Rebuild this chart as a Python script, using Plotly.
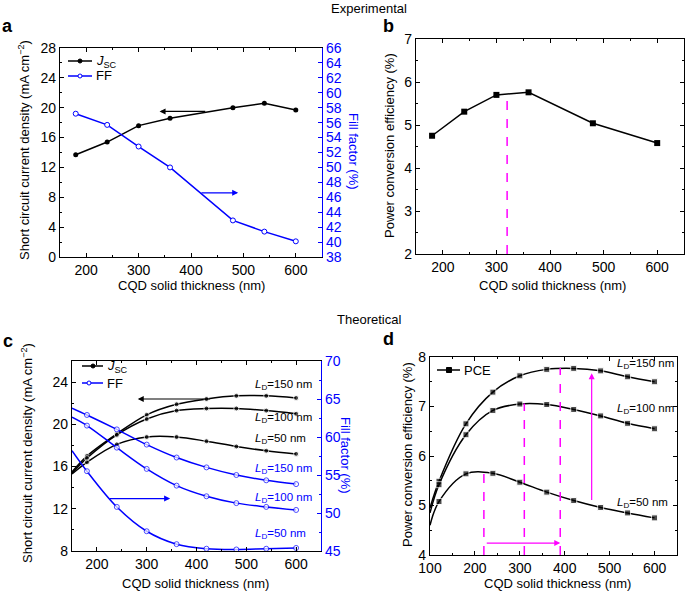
import plotly.graph_objects as go

# ---- data ----
# experimental (a, b)
exp_thick = [180, 240, 300, 360, 480, 540, 600]
exp_jsc = [13.7, 15.4, 17.6, 18.6, 20.0, 20.6, 19.7]
exp_ff = [57.2, 55.7, 52.8, 50.0, 42.9, 41.4, 40.1]

exp_thick_b = [180, 240, 300, 360, 480, 600]
exp_pce = [4.75, 5.31, 5.70, 5.76, 5.04, 4.58]
exp_opt_thick = 320
exp_opt_pce = 5.73

# theoretical (c)  first point = curve start, no marker
th_thick_c = [150, 180, 240, 300, 360, 420, 480, 540, 600]
ld_labels = ['150', '100', '50']
th_jsc = {
    '150': [15.5, 17.0, 19.1, 20.9, 21.9, 22.4, 22.7, 22.7, 22.5],
    '100': [15.4, 16.8, 19.0, 20.5, 21.3, 21.5, 21.5, 21.3, 21.0],
    '50': [15.3, 16.4, 18.1, 18.8, 18.8, 18.4, 17.9, 17.5, 17.2],
}
th_ff = {
    '150': [63.8, 62.9, 61.0, 59.0, 57.3, 56.0, 55.0, 54.3, 53.8],
    '100': [62.6, 61.5, 58.6, 55.8, 53.6, 52.2, 51.3, 50.8, 50.4],
    '50': [58.2, 55.5, 50.8, 47.6, 45.9, 45.3, 45.2, 45.3, 45.4],
}

# theoretical (d)
th_thick_d = [100, 120, 180, 240, 300, 360, 420, 480, 540, 600]
th_pce = {
    '150': [4.95, 5.49, 6.65, 7.29, 7.62, 7.75, 7.77, 7.72, 7.60, 7.50],
    '100': [4.85, 5.42, 6.43, 6.92, 7.05, 7.04, 6.94, 6.81, 6.66, 6.55],
    '50': [4.60, 5.08, 5.64, 5.65, 5.47, 5.27, 5.10, 4.96, 4.85, 4.75],
}
th_opt_thick = [220, 310, 390]
th_opt_pce = [5.69, 7.06, 7.78]

W, H = 685, 594
FONT = 'Liberation Sans, Arial, sans-serif'
BLUE = '#0000FF'
MAG = '#FF00FF'


def px(x):
    return x / W


def py(y):
    return 1 - y / H


fig = go.Figure()

# ---- panel a ----
fig.add_trace(go.Scatter(x=exp_thick, y=exp_jsc, mode='lines+markers',
                         line=dict(color='black', width=1.5),
                         marker=dict(symbol='circle', size=5, color='black'),
                         xaxis='x', yaxis='y'))
fig.add_trace(go.Scatter(x=exp_thick, y=exp_ff, mode='lines+markers',
                         line=dict(color=BLUE, width=1.5),
                         marker=dict(symbol='circle', size=5, color='white',
                                     line=dict(color=BLUE, width=1)),
                         xaxis='x', yaxis='y2'))

# ---- panel b ----
fig.add_trace(go.Scatter(x=exp_thick_b, y=exp_pce, mode='lines+markers',
                         line=dict(color='black', width=1.5),
                         marker=dict(symbol='square', size=6, color='black'),
                         xaxis='x2', yaxis='y3'))
fig.add_shape(type='line', xref='x2', yref='y3', x0=exp_opt_thick, x1=exp_opt_thick,
              y0=2, y1=exp_opt_pce, line=dict(color=MAG, width=1.5, dash='dash'))

# ---- panel c ----
msize_c = [0] + [5] * (len(th_thick_c) - 1)
for ld in ld_labels:
    fig.add_trace(go.Scatter(x=th_thick_c, y=th_jsc[ld], mode='lines+markers',
                             line_shape='spline',
                             line=dict(color='black', width=1.5),
                             marker=dict(symbol='circle', size=msize_c, color='black'),
                             xaxis='x3', yaxis='y4'))
for ld in ld_labels:
    fig.add_trace(go.Scatter(x=th_thick_c, y=th_ff[ld], mode='lines+markers',
                             line_shape='spline',
                             line=dict(color=BLUE, width=1.5),
                             marker=dict(symbol='circle', size=msize_c, color='white',
                                         line=dict(color=BLUE, width=1)),
                             xaxis='x3', yaxis='y5'))

# ---- panel d ----
msize_d = [0] + [6] * (len(th_thick_d) - 1)
for ld in ld_labels:
    fig.add_trace(go.Scatter(x=th_thick_d, y=th_pce[ld], mode='lines+markers',
                             line_shape='spline',
                             line=dict(color='black', width=1.5),
                             marker=dict(symbol='square', size=msize_d, color='black'),
                             xaxis='x4', yaxis='y6'))
for xo, yo in zip(th_opt_thick, th_opt_pce):
    fig.add_shape(type='line', xref='x4', yref='y6', x0=xo, x1=xo, y0=4, y1=yo,
                  line=dict(color=MAG, width=1.5, dash='dash'))

# ---- axes ----
tickfont = dict(family=FONT, size=14, color='black')


def xax(dom, rng, anchor):
    return dict(domain=dom, range=rng, anchor=anchor, dtick=100, tick0=0,
                showline=True, linecolor='black', linewidth=1.2, mirror='ticks',
                ticks='inside', ticklen=4, tickcolor='black', automargin=False,
                minor=dict(dtick=50, ticks='inside', ticklen=2, tickcolor='black'),
                showgrid=False, zeroline=False, tickfont=tickfont)


def yax(dom, rng, anchor, dtick, mdtick, mirror, color='black', **kw):
    d = dict(range=rng, anchor=anchor, dtick=dtick,
             showline=True, linecolor=color, linewidth=1.2, mirror=mirror,
             ticks='inside', ticklen=4, tickcolor=color, automargin=False,
             showgrid=False, zeroline=False,
             tickfont=dict(family=FONT, size=14, color=color))
    if mdtick:
        d['minor'] = dict(dtick=mdtick, ticks='inside', ticklen=2, tickcolor=color)
    if dom is not None:
        d['domain'] = dom
    d.update(kw)
    return d


fig.update_layout(
    xaxis=xax([px(60), px(322)], [150, 650], 'y'),
    yaxis=yax([py(257), py(48)], [0, 28], 'x', 4, 2, False),
    yaxis2=yax(None, [38, 66], 'x', 2, None, False, BLUE, overlaying='y', side='right'),
    xaxis2=xax([px(416), px(684)], [150, 650], 'y3'),
    yaxis3=yax([py(254), py(39)], [2, 7], 'x2', 1, 0.5, 'ticks'),
    xaxis3=xax([px(72), px(321)], [150, 650], 'y4'),
    yaxis4=yax([py(551), py(361)], [8, 26], 'x3', 4, 2, False),
    yaxis5=yax(None, [45, 70], 'x3', 5, 2.5, False, BLUE, overlaying='y4', side='right'),
    xaxis4=xax([px(430), px(677)], [100, 650], 'y6'),
    yaxis6=yax([py(555), py(357)], [4, 8], 'x4', 1, 0.5, 'ticks'),
)

# ---- text ----
ann = []
shapes = []


def txt(x, y, s, size=13, color='black', angle=0, xanchor='center', bold=False):
    if bold:
        s = '<b>' + s + '</b>'
    ann.append(dict(x=px(x), y=py(y), xref='paper', yref='paper', text=s,
                    showarrow=False, textangle=angle, xanchor=xanchor, yanchor='middle',
                    font=dict(family=FONT, size=size, color=color)))


def legend_item(x0, x1, xm, y, color, symbol, fill, label):
    shapes.append(dict(type='line', xref='paper', yref='paper', x0=px(x0), x1=px(x1),
                       y0=py(y), y1=py(y), line=dict(color=color, width=1.5)))
    r = 2 if symbol == 'circle' else 2.5
    shapes.append(dict(type=symbol, xref='paper', yref='paper', xsizemode='pixel',
                       ysizemode='pixel', xanchor=px(xm), yanchor=py(y),
                       x0=-r, x1=r, y0=-r, y1=r, fillcolor=fill,
                       line=dict(color=color, width=1)))
    txt(x1 + 2, y, label, 13, xanchor='left')


JSC = '<i>J</i><sub>SC</sub>'
legend_item(68, 92, 80, 61, 'black', 'circle', 'black', JSC)
legend_item(68, 92, 80, 76, BLUE, 'circle', 'white', 'FF')
legend_item(82, 103, 93, 366, 'black', 'circle', 'black', JSC)
legend_item(82, 103, 89, 383, BLUE, 'circle', 'white', 'FF')
legend_item(437, 460, 449, 370, 'black', 'rect', 'black', 'PCE')

txt(369, 8, 'Experimental')
txt(369, 319, 'Theoretical')
txt(8, 26, 'a', 18, bold=True)
txt(388, 26, 'b', 18, bold=True)
txt(8, 341, 'c', 18, bold=True)
txt(388, 339, 'd', 18, bold=True)

ytitle_jsc = 'Short circuit current density (mA cm<sup>\u22122</sup>)'
xtitle = 'CQD solid thickness (nm)'
txt(24, 150, ytitle_jsc, angle=-90)
txt(353, 152, 'Fill factor (%)', color=BLUE, angle=90)
txt(191, 285, xtitle)
txt(389, 146, 'Power conversion efficiency (%)', angle=-90)
txt(552, 285, xtitle)
txt(27, 453, ytitle_jsc, angle=-90)
txt(346, 455, 'Fill factor (%)', color=BLUE, angle=90)
txt(196, 583, xtitle)
txt(407, 455, 'Power conversion efficiency (%)', angle=-90)
txt(557, 583, xtitle)

# L_D labels
ld_txt = {ld: '<i>L</i><sub>D</sub>=' + ld + ' nm' for ld in ld_labels}
for ld, yv in zip(ld_labels, [23.7, 20.6, 18.6]):
    ann.append(dict(x=513, y=yv, xref='x3', yref='y4', text=ld_txt[ld], showarrow=False,
                    xanchor='left', font=dict(family=FONT, size=11.5, color='black')))
for ld, yv in zip(ld_labels, [55.8, 52.0, 47.2]):
    ann.append(dict(x=513, y=yv, xref='x3', yref='y5', text=ld_txt[ld], showarrow=False,
                    xanchor='left', font=dict(family=FONT, size=11.5, color=BLUE)))
for ld, yv in zip(ld_labels, [7.85, 6.94, 5.06]):
    ann.append(dict(x=512, y=yv, xref='x4', yref='y6', text=ld_txt[ld], showarrow=False,
                    xanchor='left', font=dict(family=FONT, size=11.5, color='black')))

# arrows


def arrow(xr, yr, x, y, ax, ay, color):
    ann.append(dict(xref=xr, yref=yr, axref=xr, ayref=yr, x=x, y=y, ax=ax, ay=ay,
                    text='', showarrow=True, arrowhead=2, arrowsize=1,
                    arrowwidth=1.2, arrowcolor=color))


arrow('x', 'y', 340, 19.5, 430, 19.5, 'black')
arrow('x', 'y2', 490, 46.6, 417, 46.6, BLUE)
arrow('x3', 'y4', 282, 22.4, 430, 22.4, 'black')
arrow('x3', 'y5', 347, 51.9, 223, 51.9, BLUE)
arrow('x4', 'y6', th_opt_thick[-1], 4.24, th_opt_thick[0] + 3, 4.24, MAG)
arrow('x4', 'y6', 460, 7.67, 460, 5.08, MAG)

fig.update_layout(
    annotations=ann,
    shapes=list(fig.layout.shapes) + shapes,
    showlegend=False,
    width=W, height=H,
    margin=dict(l=0, r=0, t=0, b=0),
    plot_bgcolor='white', paper_bgcolor='white',
    font=dict(family=FONT, size=13, color='black'),
)

fig.write_html('out.html', config={'displayModeBar': False},
               post_script="document.body.style.margin='0px';")
